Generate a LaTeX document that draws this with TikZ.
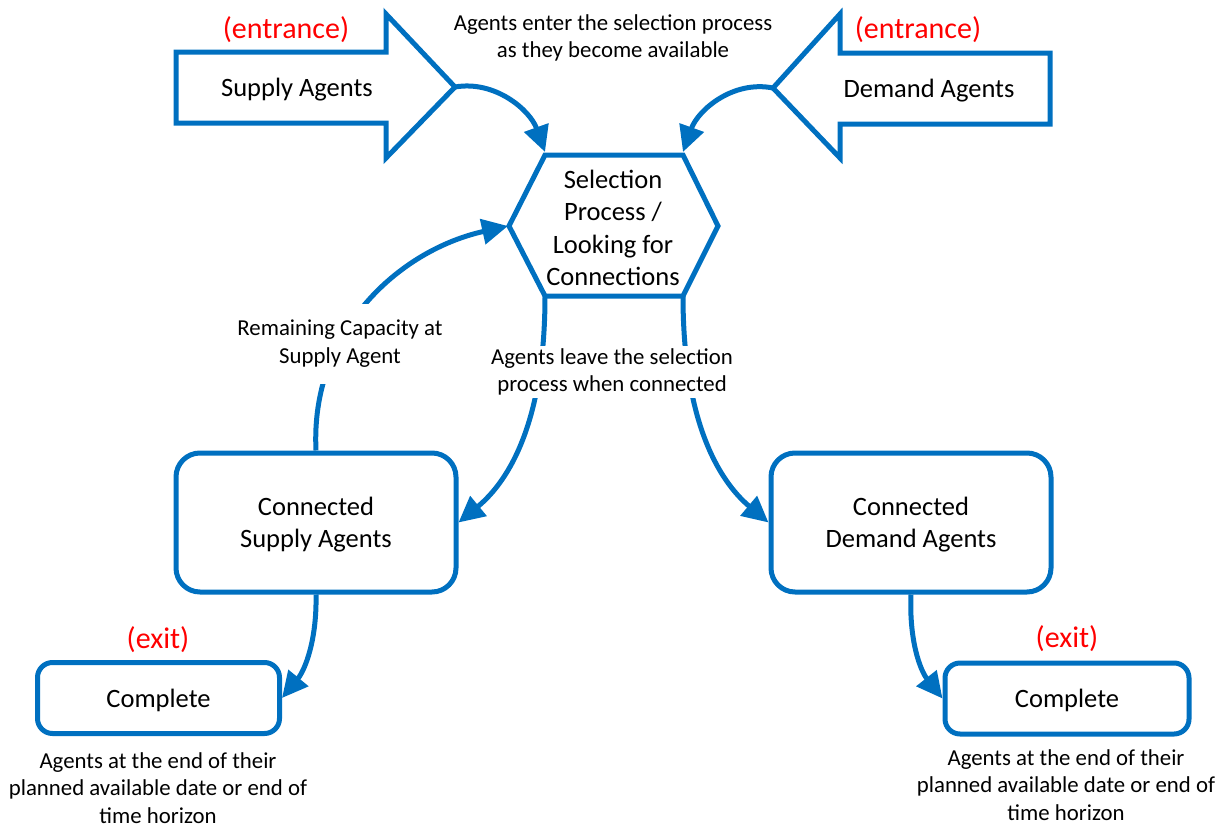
\documentclass[tikz,border=0pt]{standalone}
\usepackage{fontspec}
\setmainfont{Carlito}
\usepackage{tikz}
\usepackage{xcolor}
\usetikzlibrary{arrows.meta}
\definecolor{flowblue}{HTML}{0070C0}
\definecolor{tagred}{HTML}{FF0000}
\tikzset{
  flow/.style={draw=flowblue, line width=5pt},
  link/.style={flow, -{Triangle[length=26pt,width=25pt]}},
  bigtext/.style={font=\fontsize{26.5}{32.3}\selectfont, align=center, inner sep=0pt},
  smalltext/.style={font=\fontsize{22.8}{27.8}\selectfont, align=center},
  tag/.style={font=\fontsize{30}{36}\selectfont, text=tagred, inner sep=0pt},
  agentbox/.style={flow, rounded corners=24pt, minimum width=280pt, minimum height=139pt, bigtext},
  donebox/.style={flow, rounded corners=15pt, minimum width=242pt, minimum height=71pt, bigtext}
}

\begin{document}
\begin{tikzpicture}[x=1pt,y=-1pt]
                \useasboundingbox (0,0) rectangle (1226,825);
                % entrance arrows
                \draw[flow] (176,52) -- (386,52) -- (386,14) -- (455,87) -- (386,158) -- (386,123) -- (176,123) -- cycle;
                \draw[flow] (1050,53) -- (840,53) -- (840,14) -- (773,88) -- (840,158) -- (840,124) -- (1050,124) -- cycle;
                \coordinate (supplytip) at (455,87);
                \coordinate (demandtip) at (773,88);
                \node[bigtext] (supply) at (297,90) {Supply Agents};
                \node[bigtext] (demand) at (929,91) {Demand Agents};
                \node[tag] (supplytag) at (286,30) {(entrance)};
                \node[tag] (demandtag) at (918,30) {(entrance)};
                \node[smalltext] (enter) at (613,38) {Agents enter the selection process\\as they become available};
                % selection hexagon
                \draw[flow] (545,155) -- (683,155) -- (718,226) -- (683,296) -- (545,296) -- (509,226) -- cycle;
                \node[bigtext] (select) at (613,228) {Selection\\Process /\\Looking for\\Connections};
                \coordinate (hexnw) at (545,152);
                \coordinate (hexne) at (683,152);
                \coordinate (hexw) at (508,226);
                \coordinate (hexsw) at (545,296);
                \coordinate (hexse) at (683,296);
                % connected and complete
                \node[agentbox, text depth=0pt] (csupply) at (316,522.5) {Connected\\Supply Agents};
                \node[agentbox, text depth=0pt] (cdemand) at (911,522.5) {Connected\\Demand Agents};
                \node[donebox, text depth=0pt] (doneleft) at (158.5,698) {Complete};
                \node[donebox, text depth=0pt, minimum width=244pt] (doneright) at (1067,698.5) {Complete};
                \node[tag] (exitleft) at (158,640) {(exit)};
                \node[tag] (exitright) at (1067,639) {(exit)};
                \draw[link] (supplytip) .. controls (495,80) and (530,110) .. (hexnw);
                \draw[link] (demandtip) .. controls (733,80) and (698,110) .. (hexne);
                \draw[link] (csupply.north) .. controls (310,330) and (400,250) .. (hexw);
                \draw[link] (hexsw) .. controls (545,420) and (510,480) .. (csupply.east);
                \draw[link] (hexse) .. controls (683,420) and (718,480) .. (cdemand.west);
                \draw[link] (csupply.south) .. controls (317,640) and (305,670) .. (doneleft.east);
                \draw[link] (cdemand.south) .. controls (909,640) and (920,670) .. (doneright.west);
                \node[smalltext, fill=white, inner ysep=16pt] (remain) at (340,344) {Remaining Capacity at\\Supply Agent};
                \node[smalltext, fill=white, inner sep=2pt] (leave) at (612,372) {Agents leave the selection\\process when connected};
                \node[smalltext] (endleft) at (158,788) {Agents at the end of their\\planned available date or end of\\time horizon};
                \node[smalltext] (endright) at (1066,785) {Agents at the end of their\\planned available date or end of\\time horizon};
            \end{tikzpicture}
\end{document}
